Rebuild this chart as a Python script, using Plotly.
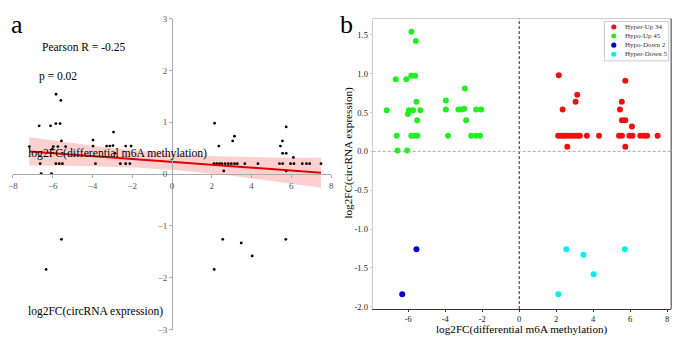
import numpy as np
import plotly.graph_objects as go

# ---------------- data ----------------
hypo_up_x = [-5.83, -5.59, -6.68, -6.11, -5.84, -5.63, -5.56, -7.17, -5.97, -6.02, -5.74, -5.35,
             -5.52, -6.63, -5.84, -5.67, -5.51, -6.58, -6.06,
             -2.94, -3.97, -3.97, -3.29, -3.13, -2.97, -2.33, -2.06, -2.87, -3.85, -2.60, -2.33, -2.12]
hypo_up_y = [1.54, 1.42, 0.93, 0.93, 0.975, 0.975, 0.64, 0.53, 0.53, 0.48, 0.53, 0.53,
             0.40, 0.20, 0.20, 0.20, 0.20, 0.01, 0.01,
             0.81, 0.655, 0.54, 0.54, 0.54, 0.55, 0.54, 0.54, 0.40, 0.20, 0.20, 0.20, 0.20]

hyper_up_x = [2.14, 3.14, 3.05, 2.35, 2.11, 2.25, 2.39, 2.51, 2.67, 2.83, 2.98, 3.14, 3.28, 3.66, 4.32, 2.60,
              5.74, 5.55, 5.45, 5.56, 5.74, 6.10, 5.40, 5.56, 5.96, 6.13, 6.55, 6.76, 6.92, 7.49, 5.74]
hyper_up_y = [0.98, 0.73, 0.64, 0.54, 0.20, 0.20, 0.20, 0.20, 0.20, 0.20, 0.20, 0.20, 0.20, 0.20, 0.20, 0.06,
              0.91, 0.64, 0.54, 0.40, 0.40, 0.32, 0.20, 0.20, 0.20, 0.20, 0.20, 0.20, 0.20, 0.20, 0.06]

hypo_down_x = [-5.56, -6.33]
hypo_down_y = [-1.26, -1.84]

hyper_down_x = [2.55, 3.48, 4.03, 5.72, 2.12]
hyper_down_y = [-1.26, -1.33, -1.58, -1.26, -1.84]

legend_labels = ["Hyper-Up 34", "Hypo-Up 45", "Hypo-Down 2", "Hyper-Down 5"]
legend_colors = ["#ee1111", "#22ee22", "#0000cc", "#00eeee"]

a_xticks = [-8, -6, -4, -2, 0, 2, 4, 6, 8]
a_yticks = [-3, -2, -1, 0, 1, 2, 3]
b_xticks = [-6, -4, -2, 0, 2, 4, 6, 8]
b_yticks = [-2.0, -1.5, -1.0, -0.5, 0.0, 0.5, 1.0, 1.5]

W, H = 685, 352
FONT = "Liberation Serif, Times New Roman, serif"

def px(x):
    return x / W

def py(y):
    return 1 - y / H

all_x = np.array(hypo_up_x + hyper_up_x + hypo_down_x + hyper_down_x)
all_y = np.array(hypo_up_y + hyper_up_y + hypo_down_y + hyper_down_y)

# regression and 95% CI
slope, intercept = np.polyfit(all_x, all_y, 1)
n = len(all_x)
resid = all_y - (slope * all_x + intercept)
s = np.sqrt(np.sum(resid ** 2) / (n - 2))
xbar = all_x.mean()
sxx = np.sum((all_x - xbar) ** 2)
xs = np.linspace(all_x.min(), all_x.max(), 60)
ys = slope * xs + intercept
se = s * np.sqrt(1 / n + (xs - xbar) ** 2 / sxx)
upper = ys + 1.994 * se
lower = ys - 1.994 * se

fig = go.Figure()

# ---------- panel a ----------
fig.add_trace(go.Scatter(x=np.concatenate([xs, xs[::-1]]), y=np.concatenate([upper, lower[::-1]]),
                         fill="toself", fillcolor="rgba(250,120,120,0.35)", line=dict(width=0),
                         mode="lines", hoverinfo="skip", showlegend=False, xaxis="x", yaxis="y"))
fig.add_trace(go.Scatter(x=all_x, y=all_y, mode="markers",
                         marker=dict(color="black", size=2.8), showlegend=False, xaxis="x", yaxis="y"))
fig.add_trace(go.Scatter(x=xs, y=ys, mode="lines", line=dict(color="#dd0000", width=2),
                         showlegend=False, xaxis="x", yaxis="y"))

# ---------- panel b ----------
groups = [(hyper_up_x, hyper_up_y), (hypo_up_x, hypo_up_y), (hypo_down_x, hypo_down_y), (hyper_down_x, hyper_down_y)]
for (gx, gy), lab, col in zip(groups, legend_labels, legend_colors):
    fig.add_trace(go.Scatter(x=gx, y=gy, mode="markers", name=lab,
                             marker=dict(color=col, size=6), showlegend=False, xaxis="x2", yaxis="y2"))

a_xdom = [px(8), px(330)]
a_ydom = [py(334), py(14)]
b_xdom = [px(372), px(674)]
b_ydom = [py(313), py(14)]

tickfont_a = dict(family=FONT, size=9, color="#555")
tickfont_b = dict(family=FONT, size=8.5, color="#222")

fig.update_layout(
    width=W, height=H, margin=dict(l=0, r=0, t=0, b=0),
    plot_bgcolor="white", paper_bgcolor="white", showlegend=False,
    xaxis=dict(domain=a_xdom, range=[-8, 8], anchor="free", position=(a_ydom[0] + a_ydom[1]) / 2,
               tickvals=a_xticks, ticktext=[str(v).replace("-", "\u2212") for v in a_xticks],
               showgrid=False, zeroline=False, showline=True, linecolor="#aaa", linewidth=1,
               ticks="outside", ticklen=3, tickcolor="#aaa", tickfont=tickfont_a),
    yaxis=dict(domain=a_ydom, range=[-3, 3], anchor="free", position=(a_xdom[0] + a_xdom[1]) / 2,
               tickvals=a_yticks, ticktext=[str(v).replace("-", "\u2212") for v in a_yticks],
               showgrid=False, zeroline=False, showline=True, linecolor="#aaa", linewidth=1,
               ticks="outside", ticklen=3, tickcolor="#aaa", tickfont=tickfont_a),
    xaxis2=dict(domain=b_xdom, range=[-7.93, 8.22], anchor="y2",
                tickvals=b_xticks, ticktext=[str(v) for v in b_xticks],
                showgrid=False, zeroline=False, showline=True, linecolor="#333", linewidth=1,
                ticks="outside", ticklen=2, tickcolor="#333", tickfont=tickfont_b),
    yaxis2=dict(domain=b_ydom, range=[-2.03, 1.709], anchor="x2",
                tickvals=b_yticks, ticktext=["%.1f" % v for v in b_yticks],
                showgrid=False, zeroline=False, showline=True, linecolor="#ccc", linewidth=1,
                ticks="outside", ticklen=2, tickcolor="#ccc", tickfont=tickfont_b),
)

shapes = []
# panel b frame top and right
shapes.append(dict(type="line", xref="paper", yref="paper", x0=b_xdom[0], x1=b_xdom[1], y0=b_ydom[1], y1=b_ydom[1],
                   line=dict(color="#ccc", width=1)))
shapes.append(dict(type="line", xref="paper", yref="paper", x0=b_xdom[1], x1=b_xdom[1], y0=b_ydom[0], y1=b_ydom[1],
                   line=dict(color="#333", width=1)))
# dashed reference lines
shapes.append(dict(type="line", xref="x2", yref="paper", x0=0, x1=0, y0=b_ydom[0], y1=b_ydom[1],
                   line=dict(color="#222", width=1, dash="3px,2px")))
shapes.append(dict(type="line", xref="paper", yref="y2", x0=b_xdom[0], x1=b_xdom[1], y0=0, y1=0,
                   line=dict(color="#aaa", width=1, dash="3px,2px")))
# custom legend box
shapes.append(dict(type="rect", xref="paper", yref="paper", x0=px(606.5), x1=px(671.5), y0=py(57.5), y1=py(17),
                   line=dict(color="#ccc", width=1), fillcolor="white"))
leg_ys = [22.7, 31.9, 41.3, 50.7]
annotations = []
for ly, lab, col in zip(leg_ys, legend_labels, legend_colors):
    r = 2.6
    shapes.append(dict(type="circle", xref="paper", yref="paper", x0=px(616 - r), x1=px(616 + r),
                       y0=py(ly + r), y1=py(ly - r), line=dict(width=0), fillcolor=col))
    annotations.append(dict(text=lab, xref="paper", yref="paper", x=px(625), y=py(ly), xanchor="left",
                            yanchor="middle", showarrow=False, font=dict(family=FONT, size=7, color="#333")))

def txt(t, x, y, size, xanchor="left", color="black", **kw):
    annotations.append(dict(text=t, xref="paper", yref="paper", x=px(x), y=py(y), xanchor=xanchor,
                            yanchor="middle", showarrow=False, font=dict(family=FONT, size=size, color=color), **kw))

txt("a", 4, 20, 26)
txt("b", 337, 20, 26)
txt("Pearson R = -0.25", 35, 43, 11.5)
txt("p = 0.02", 32, 74, 11.5)
txt("log2FC(differential m6A methylation)", 21, 153, 11.7)
txt("log2FC(circRNA expression)", 21, 315, 11.5)
txt("log2FC(differential m6A methylation)", 523, 334, 11.2, xanchor="center")
annotations.append(dict(text="log2FC(circRNA expression)", xref="paper", yref="paper", x=px(348), y=py(152),
                        xanchor="center", yanchor="middle", showarrow=False, textangle=-90,
                        font=dict(family=FONT, size=11.2, color="black")))

fig.update_layout(shapes=shapes, annotations=annotations)
fig.write_html("out.html")
